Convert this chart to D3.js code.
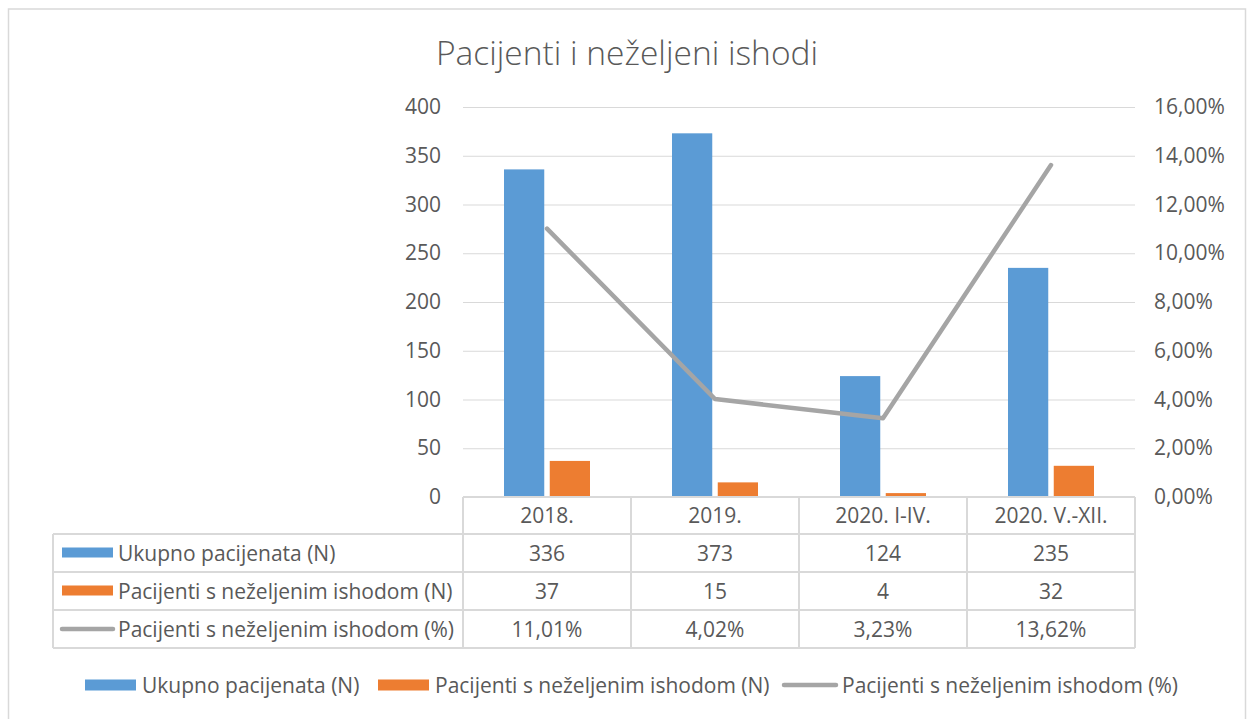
<!DOCTYPE html>
<html><head><meta charset="utf-8">
<script src="https://cdn.jsdelivr.net/npm/d3@7/dist/d3.min.js"></script>
<style>body{margin:0;background:#fff}svg{display:block}text{font-family:"Open Sans",sans-serif;fill:#595959}</style>
</head><body><svg id="c" width="1248" height="719"></svg>
<script>
const categories = ["2018.", "2019.", "2020. I-IV.", "2020. V.-XII."];
const seriesNames = ["Ukupno pacijenata (N)", "Pacijenti s neželjenim ishodom (N)", "Pacijenti s neželjenim ishodom (%)"];
const totalPatients = [336, 373, 124, 235];
const adversePatients = [37, 15, 4, 32];
const adversePct = [11.01, 4.02, 3.23, 13.62];
const leftTicks = [0, 50, 100, 150, 200, 250, 300, 350, 400];
const rightTicks = [0, 2, 4, 6, 8, 10, 12, 14, 16];
const colors = ["#5B9BD5", "#ED7D31", "#A5A5A5"];

const svg = d3.select("#c");
const fmtPct = v => v.toFixed(2).replace(".", ",") + "%";
const fs = 21;

// frame
svg.append("rect").attr("x", 8.5).attr("y", 9).attr("width", 1237).attr("height", 740)
  .attr("fill", "none").attr("stroke", "#D9D9D9").attr("stroke-width", 1.5);

// title
svg.append("text").attr("x", 627).attr("y", 65).attr("text-anchor", "middle")
  .style("font-size", "33.5px").style("font-weight", 300).text("Pacijenti i neželjeni ishodi");

const x0 = d3.scaleBand().domain(categories).range([463, 1135]);
const x1 = d3.scaleBand().domain([0, 1]).range([41, 127]).paddingInner(0.12);
const yL = d3.scaleLinear().domain([0, 400]).range([497, 107]);
const yR = d3.scaleLinear().domain([0, 16]).range([497, 107]);

// gridlines
svg.append("g").selectAll("line").data(leftTicks.filter(t => t > 0)).join("line")
  .attr("x1", 463).attr("x2", 1135).attr("y1", d => yL(d) + 0.5).attr("y2", d => yL(d) + 0.5)
  .attr("stroke", "#D9D9D9").attr("stroke-width", 1.2);

// left axis
const axL = svg.append("g").attr("transform", "translate(463,0)")
  .call(d3.axisLeft(yL).tickValues(leftTicks).tickSize(0).tickPadding(22));
axL.select(".domain").remove();
axL.selectAll("text").style("font-size", fs + "px").attr("fill", "#595959").style("font-family", '"Open Sans",sans-serif');

// right axis
const axR = svg.append("g").attr("transform", "translate(1135,0)")
  .call(d3.axisRight(yR).tickValues(rightTicks).tickSize(0).tickPadding(19).tickFormat(d => fmtPct(d)));
axR.select(".domain").remove();
axR.selectAll("text").style("font-size", fs + "px").attr("fill", "#595959").style("font-family", '"Open Sans",sans-serif');

// bars
const barData = [totalPatients, adversePatients];
barData.forEach((arr, si) => {
  svg.append("g").selectAll("rect").data(arr).join("rect")
    .attr("x", (d, i) => x0(categories[i]) + x1(si))
    .attr("width", x1.bandwidth())
    .attr("y", d => yL(d)).attr("height", d => yL(0) - yL(d))
    .attr("fill", colors[si]);
});

// line
const line = d3.line().x((d, i) => x0(categories[i]) + x0.bandwidth() / 2).y(d => yR(d));
svg.append("path").datum(adversePct).attr("d", line).attr("fill", "none")
  .attr("stroke", colors[2]).attr("stroke-width", 4.5).attr("stroke-linecap", "round").attr("stroke-linejoin", "round");

// data table
const gridC = "#D9D9D9";
const rowY = [497, 534, 572, 610, 648];
const tbl = svg.append("g").attr("stroke", gridC).attr("stroke-width", 2).attr("fill", "none");
tbl.append("line").attr("x1", 463).attr("x2", 1135).attr("y1", rowY[0]).attr("y2", rowY[0]);
rowY.slice(1).forEach(y => tbl.append("line").attr("x1", 53).attr("x2", 1135).attr("y1", y).attr("y2", y));
categories.forEach((c, i) => {
  tbl.append("line").attr("x1", x0(c)).attr("x2", x0(c)).attr("y1", rowY[0]).attr("y2", rowY[4]);
});
tbl.append("line").attr("x1", 1135).attr("x2", 1135).attr("y1", rowY[0]).attr("y2", rowY[4]);
tbl.append("line").attr("x1", 53).attr("x2", 53).attr("y1", rowY[1]).attr("y2", rowY[4]);

const rowVals = [categories, totalPatients.map(String), adversePatients.map(String), adversePct.map(fmtPct)];
rowVals.forEach((vals, r) => {
  svg.append("g").selectAll("text").data(vals).join("text")
    .attr("x", (d, i) => x0(categories[i]) + x0.bandwidth() / 2)
    .attr("y", (rowY[r] + rowY[r + 1]) / 2 + 7.5)
    .attr("text-anchor", "middle").style("font-size", fs + "px").text(d => d);
});
// row headers with keys
seriesNames.forEach((n, i) => {
  const cy = (rowY[i + 1] + rowY[i + 2]) / 2;
  if (i < 2) svg.append("rect").attr("x", 62).attr("y", cy - 5.5).attr("width", 51).attr("height", 10).attr("fill", colors[i]);
  else svg.append("line").attr("x1", 62).attr("x2", 113).attr("y1", cy).attr("y2", cy).attr("stroke", colors[2]).attr("stroke-width", 4.5).attr("stroke-linecap", "round");
  svg.append("text").attr("x", 118).attr("y", cy + 7.5).style("font-size", fs + "px").text(n);
});

// bottom legend
const legX = [85, 378, 782];
const legY = 685;
seriesNames.forEach((n, i) => {
  if (i < 2) svg.append("rect").attr("x", legX[i]).attr("y", legY - 5.5).attr("width", 51).attr("height", 11).attr("fill", colors[i]);
  else svg.append("line").attr("x1", legX[i] + 2).attr("x2", legX[i] + 54).attr("y1", legY).attr("y2", legY).attr("stroke", colors[2]).attr("stroke-width", 4.5).attr("stroke-linecap", "round");
  svg.append("text").attr("x", legX[i] + (i < 2 ? 57 : 60)).attr("y", legY + 7.5).style("font-size", fs + "px").text(n);
});
</script></body></html>
